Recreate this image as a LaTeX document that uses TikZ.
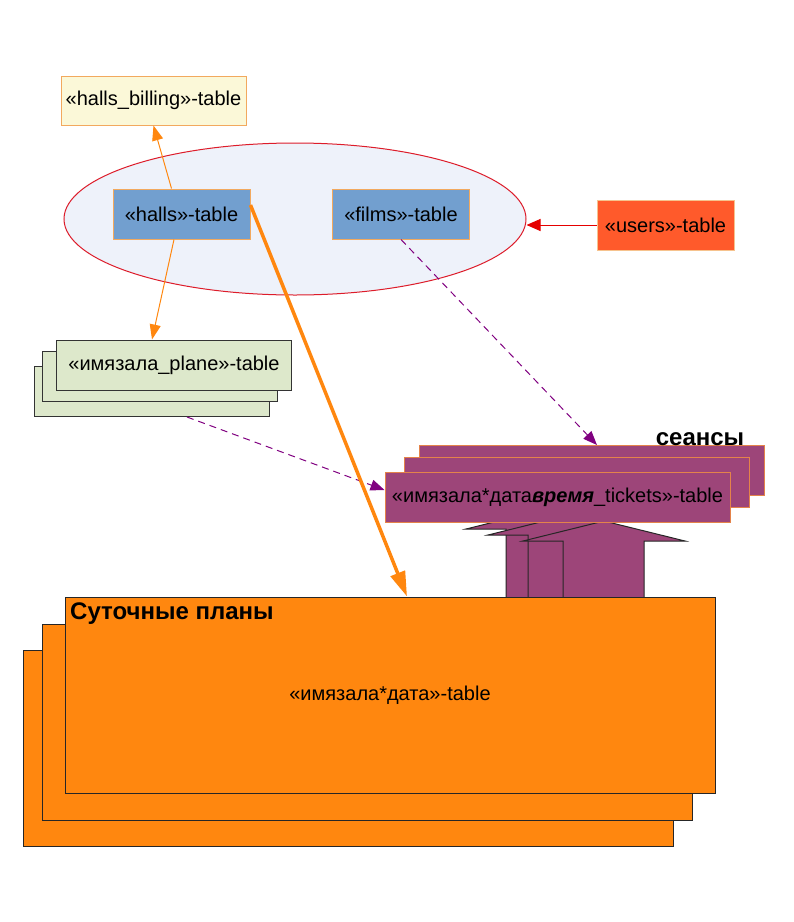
\documentclass[tikz,border=0pt]{standalone}
\usepackage{fontspec}
\setmainfont{Liberation Sans}
\usepackage{tikz}
\usetikzlibrary{arrows.meta,shapes.geometric}
\definecolor{skyblue}{HTML}{729FCF}
\definecolor{paleblue}{HTML}{EEF2FA}
\definecolor{lemon}{HTML}{FBF8D8}
\definecolor{frame}{HTML}{F2A95E}
\definecolor{brick}{HTML}{FF5A2B}
\definecolor{sage}{HTML}{DDE8CB}
\definecolor{plum}{HTML}{9D4579}
\definecolor{plumedge}{HTML}{E4834A}
\definecolor{tang}{HTML}{FF870F}
\definecolor{ovalred}{HTML}{DD1C2A}
\definecolor{dashpurple}{HTML}{800080}

\begin{document}
\begin{tikzpicture}[
x = 1pt, y = -1pt,
font = \fontsize{20}{24}\selectfont,
oval/.style={ellipse, draw = ovalred, fill = paleblue, line width = 1pt, minimum width = 462pt, minimum height = 152pt, inner sep = 0pt},
bluerect/.style={rectangle, align = center, draw = frame, fill = skyblue, line width = 1pt, minimum width = 137pt, minimum height = 50pt, inner sep = 0pt},
billrect/.style={rectangle, align = center, draw = frame, fill = lemon, line width = 1pt, minimum width = 185pt, minimum height = 49pt, inner sep = 0pt},
userrect/.style={rectangle, align = center, draw = frame!70, fill = brick, line width = 1pt, minimum width = 137pt, minimum height = 50pt, inner sep = 0pt},
planrect/.style={rectangle, align = center, draw = black!80, fill = sage, line width = 1pt, minimum width = 235pt, minimum height = 50pt, inner sep = 0pt},
sessrect/.style={rectangle, align = center, draw = plumedge, fill = plum, line width = 1pt, minimum width = 345pt, minimum height = 50pt, inner sep = 0pt},
dayrect/.style={rectangle, align = center, draw = black!85, fill = tang, line width = 1pt, minimum width = 650pt, minimum height = 196pt, inner sep = 0pt},
blockarr/.style={draw = black!85, fill = plum, line width = 1pt},
thinarr/.style={-{Triangle[length = 15pt, width = 11pt]}, draw = tang, line width = 1pt},
redarr/.style={-{Triangle[length = 14pt, width = 12pt]}, draw = red!90!black, fill = red!90!black, line width = 1pt},
dasharr/.style={-{Triangle[length = 14pt, width = 11pt]}, draw = dashpurple, line width = 1pt, dash pattern = on 7pt off 5pt},
fatarr/.style={-{Triangle[length = 25pt, width = 15pt]}, draw = tang, line width = 3.5pt}]

\useasboundingbox (0,0) rectangle (794,922);

% top group
\node[oval] (core) at (295,219) {};
\node[bluerect] (halls) at (181.5,214) {«halls»-table};
\node[bluerect] (films) at (401,214) {«films»-table};
\node[billrect] (billing) at (153.5,100.5) {«halls\_billing»-table};
\node[userrect] (users) at (665.5,225) {«users»-table};

% plane tables
\node[planrect] (P3) at (151.5,391.5) {};
\node[planrect] (P2) at (159.5,376.5) {};
\node[planrect] (P1) at (174,365) {«имязала\_plane»-table};

\draw[thinarr] ([xshift=-10pt]halls.north) -- (billing.south);
\draw[thinarr] ([xshift=-7.5pt]halls.south) -- ([xshift=-22pt]P1.north);
\draw[redarr] (users.west) -- (users.west -| core.east);

% up arrows under the sessions
\foreach \dx/\dy in {-57/-12, -35/-6, 0/0}
  \filldraw[blockarr, shift={(\dx,\dy)}] (563,615) -- (563,541) -- (523,541) -- (604,521)
    -- (685,541) -- (644,541) -- (644,615) -- cycle;

% sessions
\node[sessrect] (S3) at (591.5,470.5) {};
\node[sessrect] (S2) at (576.5,482) {};
\node[sessrect] (S1) at (557.5,497) {«имязала*дата\textbf{\textit{время}}\_tickets»-table};
\node[inner sep = 0pt, font = \fontsize{24}{28}\selectfont\bfseries] (seanstitle) at (700,439) {сеансы};

\draw[dasharr] (films.south) -- ([xshift=5.5pt]S3.north);
\draw[dasharr] ([xshift=35.5pt]P3.south) -- ([yshift=7pt]S1.west);

% daily plans
\node[dayrect] (D3) at (348,748.5) {};
\node[dayrect] (D2) at (367.5,722) {};
\node[dayrect] (D1) at (390,695) {«имязала*дата»-table};
\node[inner sep = 0pt, anchor = north west, font = \fontsize{24}{28}\selectfont\bfseries] (daytitle) at (70,603) {Суточные планы};

\draw[fatarr] ([yshift=9pt]halls.east) -- ([xshift=17pt]D1.north);

\end{tikzpicture}
\end{document}
